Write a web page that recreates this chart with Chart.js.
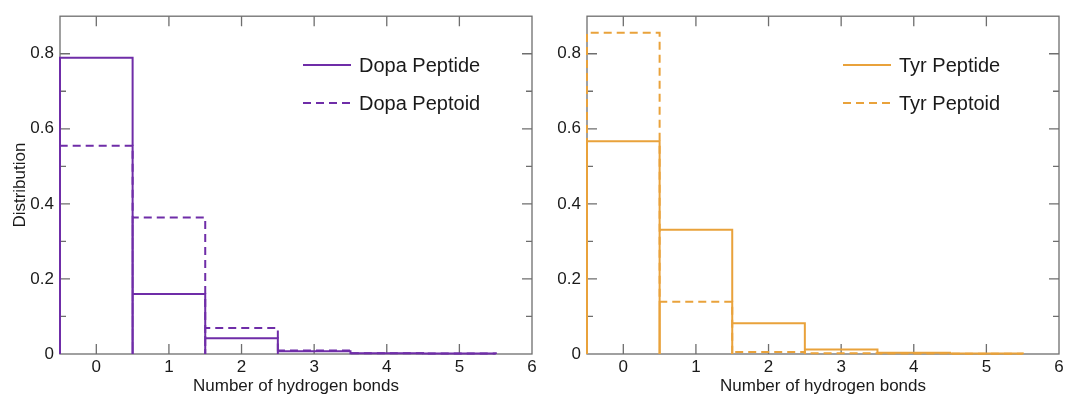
<!DOCTYPE html>
<html>
<head>
<meta charset="utf-8">
<script src="https://cdn.jsdelivr.net/npm/chart.js@4.4.1/dist/chart.umd.min.js"></script>
<style>
  body { margin: 0; background: #fff; }
  #wrap { position: relative; width: 1067px; height: 394px; }
  canvas { position: absolute; top: 0; }
  #left { left: 0; }
  #right { left: 545px; }
</style>
</head>
<body>
<div id="wrap">
  <canvas id="left" width="545" height="394"></canvas>
  <canvas id="right" width="522" height="394"></canvas>
</div>
<script>
// number of hydrogen bonds (bin centres)
const bins = [0, 1, 2, 3, 4, 5];
const dopaPeptide = [0.789, 0.160, 0.042, 0.007, 0.002, 0.001];
const dopaPeptoid = [0.555, 0.364, 0.069, 0.009, 0.002, 0.001];
const tyrPeptide = [0.567, 0.331, 0.082, 0.012, 0.003, 0.001];
const tyrPeptoid = [0.856, 0.139, 0.005, 0.002, 0.001, 0.0005];
const xTicks = [0, 1, 2, 3, 4, 5, 6];
const yTicks = [0, 0.2, 0.4, 0.6, 0.8];
const yMinor = [0.1, 0.3, 0.5, 0.7];

const purple = "#6f2da8";
const orange = "#e9a23b";
const frameColor = "#6e6e6e";

Chart.defaults.font.family = "'Liberation Sans', Arial, sans-serif";
Chart.defaults.color = "#1a1a1a";

// outline of each bin as an open rectangle
function outline(vals) {
  const pts = [];
  vals.forEach((v, i) => {
    const l = bins[i] - 0.5, r = bins[i] + 0.5;
    pts.push({ x: l, y: 0 }, { x: l, y: v }, { x: r, y: v }, { x: r, y: 0 });
  });
  return pts;
}

const frame = {
  id: "frame",
  beforeDatasetsDraw(chart) {
    const { ctx, chartArea: a, scales } = chart;
    const xs = scales.x, ys = scales.y;
    ctx.save();
    ctx.strokeStyle = frameColor;
    ctx.lineWidth = 1.3;
    ctx.strokeRect(a.left, a.top, a.right - a.left, a.bottom - a.top);
    ctx.beginPath();
    xTicks.forEach((t) => {
      const px = xs.getPixelForValue(t);
      if (px >= a.right - 1) return;
      ctx.moveTo(px, a.bottom); ctx.lineTo(px, a.bottom - 10);
      ctx.moveTo(px, a.top); ctx.lineTo(px, a.top + 10);
    });
    yTicks.forEach((t) => {
      if (t === 0) return;
      const py = ys.getPixelForValue(t);
      ctx.moveTo(a.left, py); ctx.lineTo(a.left + 10, py);
      ctx.moveTo(a.right, py); ctx.lineTo(a.right - 10, py);
    });
    yMinor.forEach((t) => {
      const py = ys.getPixelForValue(t);
      ctx.moveTo(a.left, py); ctx.lineTo(a.left + 6, py);
      ctx.moveTo(a.right, py); ctx.lineTo(a.right - 6, py);
    });
    ctx.stroke();
    ctx.restore();
  },
  afterDraw(chart, args, opts) {
    const { ctx } = chart;
    ctx.save();
    chart.data.datasets.forEach((ds, i) => {
      const y = opts.y + i * 38;
      ctx.strokeStyle = ds.borderColor;
      ctx.lineWidth = 2;
      ctx.setLineDash(ds.borderDash || []);
      ctx.beginPath();
      ctx.moveTo(opts.x, y);
      ctx.lineTo(opts.x + 48, y);
      ctx.stroke();
      ctx.setLineDash([]);
      ctx.fillStyle = "#1a1a1a";
      ctx.font = "20px 'Liberation Sans', Arial, sans-serif";
      ctx.textBaseline = "middle";
      ctx.fillText(ds.label, opts.x + 56, y + 1);
    });
    ctx.restore();
  }
};

function makeChart(id, solid, dashed, names, color, yWidth, padRight, showYTitle, legendPos) {
  return new Chart(document.getElementById(id), {
    type: "scatter",
    data: {
      datasets: [
        {
          label: names[0], data: outline(solid), showLine: true,
          borderColor: color, borderWidth: 2, pointRadius: 0, clip: false
        },
        {
          label: names[1], data: outline(dashed), showLine: true,
          borderColor: color, borderWidth: 2, borderDash: [8, 5],
          pointRadius: 0, clip: false
        }
      ]
    },
    options: {
      responsive: false,
      devicePixelRatio: 1,
      animation: false,
      layout: { padding: { top: 14, right: padRight, bottom: 0, left: 0 } },
      plugins: {
        legend: { display: false },
        tooltip: { enabled: false },
        frame: legendPos
      },
      scales: {
        x: {
          type: "linear", min: -0.5, max: 6,
          grid: { display: false, drawTicks: false }, border: { display: false },
          afterBuildTicks: (s) => { s.ticks = xTicks.map((v) => ({ value: v })); },
          afterFit: (s) => { s.height = 40; },
          ticks: { padding: 3, font: { size: 17 } },
          title: {
            display: true, text: "Number of hydrogen bonds",
            font: { size: 17 }, padding: { top: 0, bottom: -3 }
          }
        },
        y: {
          min: 0, max: 0.9,
          grid: { display: false, drawTicks: false }, border: { display: false },
          afterBuildTicks: (s) => { s.ticks = yTicks.map((v) => ({ value: v })); },
          afterFit: (s) => { s.width = yWidth; },
          ticks: { padding: 6, font: { size: 17 } },
          title: {
            display: showYTitle, text: "Distribution",
            font: { size: 17 }, padding: { top: 10, bottom: 0 }
          }
        }
      }
    },
    plugins: [frame]
  });
}

makeChart("left", dopaPeptide, dopaPeptoid, ["Dopa Peptide", "Dopa Peptoid"],
  purple, 60, 13, true, { x: 303, y: 65 });
makeChart("right", tyrPeptide, tyrPeptoid, ["Tyr Peptide", "Tyr Peptoid"],
  orange, 42, 8, false, { x: 298, y: 65 });
</script>
</body>
</html>
